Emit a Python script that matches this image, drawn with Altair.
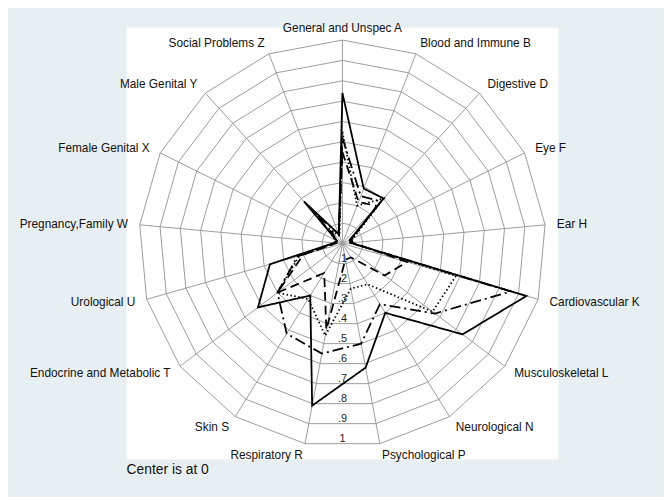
import altair as alt
import pandas as pd

categories = ["General and Unspec A", "Blood and Immune B", "Digestive D", "Eye F", "Ear H",
              "Cardiovascular K", "Musculoskeletal L", "Neurological N", "Psychological P",
              "Respiratory R", "Skin S", "Endocrine and Metabolic T", "Urological U",
              "Pregnancy,Family W", "Female Genital X", "Male Genital Y", "Social Problems Z"]

series_names = ["Series 1", "Series 2", "Series 3", "Series 4"]
series_1 = [0.74, 0.29, 0.30, 0.04, 0.04, 0.94, 0.74, 0.40, 0.62, 0.81, 0.30, 0.52, 0.37, 0.04, 0.03, 0.28, 0.05]
series_2 = [0.52, 0.25, 0.28, 0.05, 0.04, 0.86, 0.57, 0.35, 0.50, 0.55, 0.52, 0.40, 0.23, 0.03, 0.03, 0.20, 0.05]
series_3 = [0.55, 0.20, 0.30, 0.06, 0.04, 0.58, 0.555, 0.235, 0.225, 0.46, 0.32, 0.40, 0.22, 0.04, 0.04, 0.10, 0.04]
series_4 = [0.45, 0.22, 0.25, 0.05, 0.05, 0.33, 0.26, 0.08, 0.08, 0.43, 0.17, 0.40, 0.20, 0.03, 0.03, 0.08, 0.05]

ring_levels = [0.1, 0.2, 0.3, 0.4, 0.5, 0.6, 0.7, 0.8, 0.9, 1.0]
ring_labels = [".1", ".2", ".3", ".4", ".5", ".6", ".7", ".8", ".9", "1"]

N = len(categories)
FONT = "Liberation Sans"

# ---- tables built from the arrays ----
rows = []
for name, vals in zip(series_names, [series_1, series_2, series_3, series_4]):
    for i in range(N + 1):
        rows.append({"series": name, "idx": i, "value": vals[i % N]})
series_df = pd.DataFrame(rows)

ring_rows = []
for lv in ring_levels:
    for i in range(N + 1):
        ring_rows.append({"level": lv, "idx": i})
ring_df = pd.DataFrame(ring_rows)

cat_df = pd.DataFrame({"idx": list(range(N)), "cat": categories})
rl_df = pd.DataFrame({"level": ring_levels, "label": ring_labels})

ANG = f"datum.idx * 2 * PI / {N}"
sc = alt.Scale(domain=[-1.0607, 1.0607], nice=False, zero=False)
X = lambda f: alt.X(f, type="quantitative", scale=sc, axis=None)
Y = lambda f: alt.Y(f, type="quantitative", scale=sc, axis=None)

grid_color = "#9b9b9b"

rings = alt.Chart(ring_df).transform_calculate(
    gx=f"datum.level * sin({ANG})", gy=f"datum.level * cos({ANG})"
).mark_line(color=grid_color, strokeWidth=1).encode(
    x=X("gx"), y=Y("gy"), detail="level:N", order="idx:Q"
)

spokes = alt.Chart(cat_df).transform_calculate(
    x0="0", y0="0", x1=f"sin({ANG})", y1=f"cos({ANG})"
).mark_rule(color=grid_color, strokeWidth=1).encode(
    x=X("x0"), y=Y("y0"), x2="x1:Q", y2="y1:Q"
)

lines = alt.Chart(series_df).transform_calculate(
    px=f"datum.value * sin({ANG})", py=f"datum.value * cos({ANG})"
).mark_line(color="black", strokeWidth=1.8).encode(
    x=X("px"), y=Y("py"), order="idx:Q",
    strokeDash=alt.StrokeDash("series:N", legend=None,
                              scale=alt.Scale(domain=series_names,
                                              range=[[1, 0], [11, 4, 2, 4], [1.5, 2.5], [9, 5]])),
    detail="series:N"
)

def cat_layer(cond, align):
    return alt.Chart(cat_df).transform_calculate(
        s=f"sin({ANG})",
        lx=f"1.058 * sin({ANG})", ly=f"1.058 * cos({ANG})"
    ).transform_filter(cond).mark_text(
        align=align, baseline="middle", font=FONT, fontSize=12, color="#111"
    ).encode(x=X("lx"), y=Y("ly"), text="cat:N")

lab_left = cat_layer("datum.s > 0.1", "left")
lab_right = cat_layer("datum.s < -0.1", "right")
lab_center = cat_layer("abs(datum.s) <= 0.1", "center")

ring_text = alt.Chart(rl_df).transform_calculate(
    tx="0", ty=f"-(datum.level * cos(PI / {N}) - 0.024)"
).mark_text(align="center", baseline="middle", font=FONT, fontSize=11, color="#222").encode(
    x=X("tx"), y=Y("ty"), text="label:N"
)

chart = alt.layer(rings, spokes, lines, ring_text, lab_left, lab_right, lab_center).properties(
    width=437, height=437,
    autosize=alt.AutoSizeParams(type="none"),
    padding={"left": 120, "top": 17, "right": 107, "bottom": 35},
    background="#e8eff2",
    title=alt.TitleParams("Center is at 0", orient="bottom", anchor="start", frame="group",
                          fontSize=14, fontWeight="normal", font=FONT, color="#111", offset=2)
).configure_view(fill="white", stroke=None)

chart.save("out.html", embed_options={"renderer": "svg", "actions": False})
